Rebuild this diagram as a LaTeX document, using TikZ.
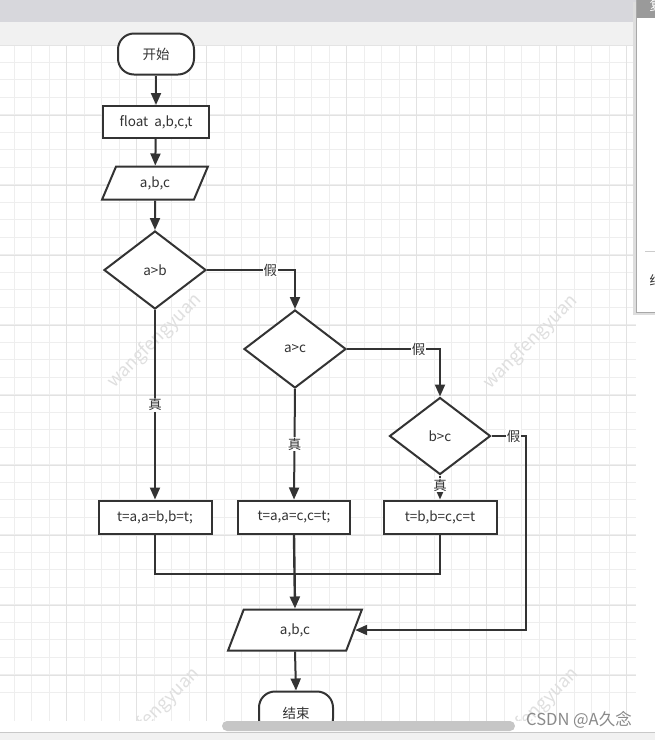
\documentclass[tikz,border=0pt]{standalone}
\usepackage{fontspec}
\setmainfont{Noto Sans CJK SC}
\usetikzlibrary{shapes.geometric,arrows.meta,calc}
\definecolor{ink}{HTML}{333333}
\definecolor{gridminor}{HTML}{EEEEEE}
\definecolor{gridmajor}{HTML}{E2E2E2}
\definecolor{wm}{HTML}{DFDFDF}
\definecolor{titlebar}{HTML}{D7D7DC}
\definecolor{toolbar}{HTML}{F1F1F1}
\definecolor{sepline}{HTML}{E4E4E4}
\definecolor{botline}{HTML}{C8C8C8}
\definecolor{scrollc}{HTML}{C6C6C6}
\definecolor{csdnc}{HTML}{8A8A8A}
\definecolor{shadowc}{HTML}{DDDDDD}
\definecolor{panelborder}{HTML}{A8A8A8}
\definecolor{tabc}{HTML}{9A9A9A}
\definecolor{panelline}{HTML}{CCCCCC}
\begin{document}
\begin{tikzpicture}[x=1pt,y=-1pt,
  every node/.style={font=\fontsize{13.5}{15}\selectfont, text=ink},
  line/.style={draw=ink, line width=2pt},
  arr/.style={line, -{Triangle[length=12pt,width=10pt]}},
  terminal/.style={draw=ink, line width=2pt, fill=white, rounded corners=16pt, minimum width=76pt, minimum height=41pt, inner sep=0pt},
  procbox/.style={draw=ink, line width=2pt, fill=white, minimum width=110pt, minimum height=32pt, inner sep=0pt},
  iobox/.style={draw=ink, line width=2pt, fill=white, trapezium, trapezium stretches=true, inner sep=0pt},
  decision/.style={draw=ink, line width=2pt, fill=white, diamond, inner sep=0pt, minimum width=102pt, minimum height=78pt},
  lab/.style={fill=white, inner sep=1pt},
  wmark/.style={text=wm, rotate=45, font=\fontsize{18}{20}\selectfont}
]
\useasboundingbox (0,0) rectangle (655,740);
\fill[white] (0,0) rectangle (655,740);
% grid
\begin{scope}
\clip (0,45) rectangle (636,721);
\foreach \i in {0,...,37} {
  \draw[gridminor, line width=1pt] ({14.2+17.5*\i},45) -- ({14.2+17.5*\i},721);
}
\foreach \i in {0,...,39} {
  \draw[gridminor, line width=1pt] (0,{9.8+17.5*\i}) -- (636,{9.8+17.5*\i});
}
\foreach \i in {0,...,9} {
  \draw[gridmajor, line width=1pt] ({-3.3+70*\i},45) -- ({-3.3+70*\i},721);
  \draw[gridmajor, line width=1pt] (0,{45+70*\i}) -- (636,{45+70*\i});
}
\node[wmark] (wm1) at (155,341) {wangfengyuan};
\node[wmark] (wm2) at (531,342) {wangfengyuan};
\node[wmark] (wm3) at (153,715) {wangfengyuan};
\node[wmark] (wm4) at (532,715) {wangfengyuan};
\end{scope}
% top bars
\fill[titlebar] (0,0) rectangle (636,22);
\fill[toolbar] (0,22) rectangle (636,45);
\draw[sepline, line width=1pt] (0,45) -- (636,45);

% flowchart nodes
\node[terminal] (start) at (156,54) {开始};
\node[procbox, minimum width=106pt] (decl) at (156,122) {float\ \ a,b,c,t};
\node[iobox, trapezium left angle=68, trapezium right angle=112, minimum width=106pt, minimum height=33pt] (in) at (155,183) {a,b,c};
\node[decision] (d1) at (155,270) {a>b};
\node[decision] (d2) at (295,349) {a>c};
\node[decision, minimum width=101pt, minimum height=77pt] (d3) at (440,436) {b>c};
\node[procbox, minimum width=113pt, minimum height=33pt] (b1) at (155,517) {t=a,a=b,b=t;};
\node[procbox, minimum width=112pt, minimum height=33pt] (b2) at (294,517) {t=a,a=c,c=t;};
\node[procbox, minimum width=113pt, minimum height=33pt] (b3) at (440,517) {t=b,b=c,c=t};
\node[iobox, trapezium left angle=71, trapezium right angle=109, minimum width=134pt, minimum height=41pt] (out) at (295,630) {a,b,c};
\node[terminal, minimum width=74pt, minimum height=43pt] (end) at (296,713) {结束};

% connectors
\draw[arr] (start) -- (decl);
\draw[arr] (decl) -- (in);
\draw[arr] (in) -- (d1);
\draw[arr] (d1.east) -- node[lab, pos=0.72] {假} (d1.east -| d2.north) -- (d2.north);
\draw[arr] (d2.east) -- node[lab, pos=0.77] {假} (d2.east -| d3.north) -- (d3.north);
\draw[arr] (d3.east) -- node[lab, pos=0.65] {假} ++(34,0) |- (out.east);
\draw[arr] (d1.south) -- node[lab] {真} (b1.north);
\draw[arr] (d2.south) -- node[lab] {真} (b2.north);
\draw[arr] (d3.south) -- node[lab, pos=0.4] {真} (b3.north);
\coordinate (j1) at ($(b1.south)+(0,39)$);
\draw[line] (b1.south) |- (b3.south |- j1) -- (b3.south);
\draw[arr, line width=2.4pt] (b2.south) -- (out.north);
\draw[arr] (out.south) -- (end.north);

% bottom area
\fill[white] (0,721) rectangle (655,732);
\fill[toolbar] (0,732) rectangle (655,740);
\draw[botline, line width=1pt] (0,732) -- (655,732);
\fill[scrollc, rounded corners=5pt] (222,721) rectangle (515,731);
\node[text=csdnc, font=\fontsize{16.5}{18}\selectfont] (csdn) at (579,720) {CSDN @A久念};

% right panel
\fill[shadowc] (633,2) rectangle (655,315);
\fill[white] (636,0) rectangle (655,312);
\draw[panelborder, line width=1pt] (636,0) -- (636,312) -- (655,312);
\fill[tabc] (637,0) rectangle (655,18);
\draw[panelline, line width=0.8pt] (645,251) -- (655,251);
\begin{scope}
\clip (636,0) rectangle (655,312);
\node[text=white, font=\fontsize{13}{15}\selectfont] (tabtxt) at (656,6) {复};
\node[font=\fontsize{13}{15}\selectfont] (paneltxt) at (656,281) {结};
\end{scope}
\end{tikzpicture}
\end{document}
